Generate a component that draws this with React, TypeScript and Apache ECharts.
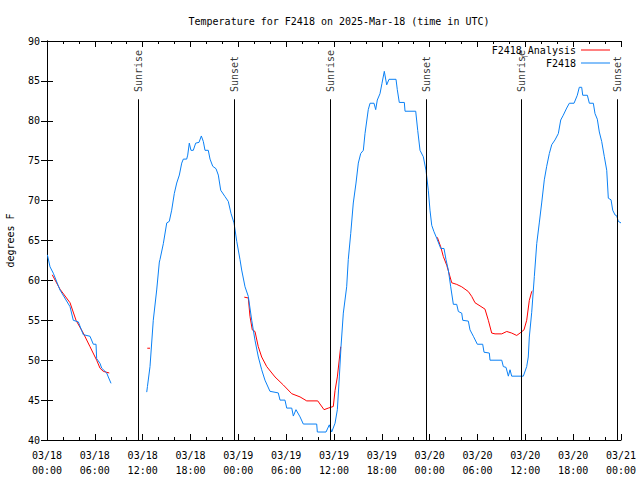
import React, { useEffect, useRef } from "react";
import * as echarts from "echarts";

const TITLE = "Temperature for F2418 on 2025-Mar-18 (time in UTC)";
const Y_NAME = "degrees F";
const SERIES_ANALYSIS = "F2418_Analysis";
const SERIES_OBS = "F2418";
const START_DAY = 18;

// hours since 2025-03-18 00:00 UTC, temperature (F)
const blueSeg1: [number, number][] = [
  [0.05, 63.2], [0.38, 61.7], [0.79, 60.9], [1.63, 58.8], [2.89, 56.7], [3.3, 55.0],
  [3.93, 54.8], [4.55, 53.2], [5.39, 53.0], [5.81, 52.0], [6.15, 52.0], [6.23, 50.2],
  [6.65, 49.6], [6.86, 49.0], [7.49, 48.4], [7.69, 47.9], [8.03, 47.1],
];

const blueSeg2: [number, number][] = [
  [12.51, 46.0], [12.6, 46.7], [12.92, 49.2], [13.33, 55.0], [13.76, 58.8], [14.09, 62.3],
  [14.17, 62.6], [14.59, 64.6], [15.02, 67.2], [15.34, 67.4], [15.64, 68.8], [15.97, 70.9],
  [16.27, 72.2], [16.6, 73.2], [16.9, 74.7], [17.1, 75.2], [17.52, 75.2], [17.65, 75.7],
  [17.85, 77.2], [18.06, 76.3], [18.35, 76.3], [18.65, 77.2], [19.07, 77.3], [19.36, 78.1],
  [19.61, 77.4], [19.82, 76.3], [20.23, 76.3], [20.45, 75.2], [20.79, 74.3], [21.2, 74.0],
  [21.49, 73.2], [21.79, 71.3], [22.33, 70.5], [22.74, 69.9], [23.08, 68.4], [23.46, 67.2],
  [23.8, 64.9], [24.21, 62.6], [24.42, 61.3], [24.84, 59.2], [25.25, 58.0], [25.68, 55.0],
  [26.09, 52.5], [26.51, 50.4], [26.93, 48.8], [27.34, 47.5], [27.97, 46.1], [29.01, 45.9],
  [29.23, 45.0], [29.85, 45.0], [30.07, 44.0], [30.7, 44.0], [30.9, 43.0], [31.23, 43.8],
  [31.74, 42.9], [32.15, 42.0], [33.83, 42.0], [33.91, 41.0], [35.0, 41.0], [35.41, 41.9],
  [35.71, 41.0], [36.13, 42.1], [36.42, 43.8], [36.67, 47.9], [36.88, 51.7], [37.17, 55.9],
  [37.59, 59.2], [37.79, 62.6], [38.1, 65.9], [38.42, 69.7], [38.76, 72.2], [39.05, 74.7],
  [39.35, 75.9], [39.68, 76.3], [39.89, 78.4], [40.3, 81.4], [40.52, 82.2], [41.02, 82.2],
  [41.23, 81.4], [41.43, 82.6], [41.77, 83.4], [42.02, 84.7], [42.31, 86.2], [42.61, 84.5],
  [42.9, 85.2], [43.78, 85.2], [43.94, 83.9], [44.19, 82.3], [44.82, 82.3], [44.91, 81.2],
  [46.25, 81.2], [46.5, 78.8], [46.79, 76.3], [47.2, 75.5], [47.54, 73.8], [47.83, 71.3],
  [48.04, 68.8], [48.26, 66.9], [48.54, 66.1], [48.88, 65.3], [49.39, 64.0], [49.8, 64.0],
  [50.05, 62.6], [50.34, 61.3], [50.64, 59.2], [50.97, 57.0], [51.39, 57.0], [51.6, 56.1],
  [52.02, 55.9], [52.15, 55.0], [52.85, 54.9], [53.06, 53.8], [53.48, 53.0], [53.98, 52.0],
  [54.65, 52.0], [54.82, 51.0], [55.48, 50.9], [55.57, 50.0], [57.04, 50.0], [57.24, 49.2],
  [57.58, 49.1], [57.87, 48.0], [58.08, 48.8], [58.29, 48.0], [59.75, 48.0], [60.17, 49.2],
  [60.37, 50.4], [60.5, 52.9], [60.8, 56.0], [61.13, 60.5], [61.43, 64.6], [61.75, 67.2],
  [62.05, 69.7], [62.38, 72.6], [62.68, 74.3], [63.01, 75.9], [63.31, 77.0], [63.72, 77.6],
  [64.14, 78.4], [64.44, 80.1], [64.76, 80.7], [65.19, 81.6], [65.52, 82.2], [66.11, 82.2],
  [66.52, 83.2], [66.77, 84.2], [67.07, 84.2], [67.2, 83.2], [67.78, 83.2], [68.03, 82.2],
  [68.53, 82.2], [68.74, 80.9], [69.03, 80.2], [69.28, 78.6], [69.58, 77.4], [69.91, 75.5],
  [70.21, 73.8], [70.41, 70.3], [70.75, 70.1], [70.96, 68.8], [71.25, 68.2], [71.46, 68.1],
  [71.66, 67.4], [72.0, 67.2],
];

const redSeg1: [number, number][] = [
  [0.66, 60.7], [1.63, 58.9], [2.89, 57.2], [3.64, 55.0], [4.55, 53.4], [5.39, 51.7],
  [6.23, 50.0], [6.65, 49.0], [7.06, 48.6], [7.81, 48.4],
];

const redSeg2: [number, number][] = [
  [12.58, 51.5], [12.92, 51.5],
];

const redSeg3: [number, number][] = [
  [24.75, 57.9], [25.25, 57.8], [25.46, 55.5], [25.75, 53.8], [26.09, 53.6], [26.5, 51.7],
  [26.93, 50.4], [27.56, 49.2], [28.6, 47.9], [29.64, 46.9], [30.7, 45.8], [31.74, 45.4],
  [32.58, 44.9], [33.96, 44.9], [34.75, 43.8], [35.29, 44.0], [35.91, 44.2], [36.13, 46.2],
  [36.42, 47.9], [36.84, 51.7],
];

const redSeg4: [number, number][] = [
  [48.96, 65.4], [49.39, 64.2], [49.71, 63.0], [50.14, 61.9], [50.77, 59.7], [51.39, 59.5],
  [52.02, 59.2], [52.85, 58.6], [53.27, 58.0], [53.69, 57.2], [54.32, 56.8], [54.94, 56.4],
  [55.36, 55.0], [55.78, 53.4], [56.2, 53.3], [57.04, 53.3], [57.67, 53.6], [58.29, 53.4],
  [58.92, 53.1], [59.33, 53.4], [59.83, 53.8], [60.17, 55.0], [60.5, 57.5], [60.8, 58.6],
  [60.88, 58.7],
];

const sunriseHours = [11.45, 35.55, 59.5];
const sunsetHours = [23.5, 47.6, 71.55];
const SUNRISE = "Sunrise";
const SUNSET = "Sunset";

const X_MIN = 0;
const X_MAX = 72;
const X_STEP = 6;
const Y_MIN = 40;
const Y_MAX = 90;
const Y_STEP = 5;
const SUN_LINE_TOP = 82.7;
const SUN_LABEL_BASE = 83.6;

const FONT = "DejaVu Sans Mono";
const BLUE = "#0a80f5";
const RED = "#ff0000";

function joinSegments(segs: [number, number][][]): any[] {
  const out: any[] = [];
  segs.forEach((s, i) => {
    if (i > 0) out.push(["-", "-"]);
    s.forEach((p) => out.push(p));
  });
  return out;
}

function pad(n: number) {
  return n < 10 ? "0" + n : String(n);
}

function xLabel(v: number) {
  const day = START_DAY + Math.floor(v / 24);
  const hh = v % 24;
  return `03/${pad(day)}\n${pad(hh)}:00`;
}

export default function App() {
  const ref = useRef<HTMLDivElement>(null);

  useEffect(() => {
    if (!ref.current) return;
    const chart = echarts.init(ref.current, undefined, { renderer: "svg" });

    const txt = { fontFamily: FONT, fontSize: 10, color: "#000" };
    const axisCommon = {
      axisLine: { show: true, lineStyle: { color: "#000", width: 1 } },
      splitLine: { show: false },
    };

    const sunEvents = [
      ...sunriseHours.map((h) => ({ h, name: SUNRISE })),
      ...sunsetHours.map((h) => ({ h, name: SUNSET })),
    ];

    const legendCommon = {
      right: 30,
      padding: 0,
      align: "right",
      icon: "rect",
      itemWidth: 29,
      itemHeight: 1,
      textStyle: txt,
      selectedMode: false,
    };

    chart.setOption({
      animation: false,
      backgroundColor: "#fff",
      title: {
        text: TITLE,
        left: 334,
        textAlign: "center",
        top: 11,
        textStyle: { ...txt, fontWeight: "normal" },
      },
      legend: [
        { ...legendCommon, data: [SERIES_ANALYSIS], top: 45 },
        { ...legendCommon, data: [SERIES_OBS], top: 58 },
      ],
      grid: {
        left: 47,
        right: 19,
        top: 41,
        bottom: 40,
        containLabel: false,
        outerBoundsMode: "none",
      },
      xAxis: [
        {
          type: "value",
          min: X_MIN,
          max: X_MAX,
          interval: X_STEP,
          position: "bottom",
          ...axisCommon,
          axisTick: { show: true, inside: true, length: 6, lineStyle: { color: "#000" } },
          minorTick: { show: true, splitNumber: 3, length: 3, lineStyle: { color: "#000" } },
          axisLabel: { ...txt, margin: 8, lineHeight: 15, formatter: xLabel },
        },
        {
          type: "value",
          min: X_MIN,
          max: X_MAX,
          interval: X_STEP,
          position: "top",
          ...axisCommon,
          axisTick: { show: true, inside: true, length: 6, lineStyle: { color: "#000" } },
          minorTick: { show: true, splitNumber: 3, length: 3, lineStyle: { color: "#000" } },
          axisLabel: { show: false },
        },
      ],
      yAxis: [
        {
          type: "value",
          min: Y_MIN,
          max: Y_MAX,
          interval: Y_STEP,
          position: "left",
          ...axisCommon,
          axisTick: { show: true, inside: true, length: 6, lineStyle: { color: "#000" } },
          axisLabel: { ...txt, margin: 7 },
          name: Y_NAME,
          nameLocation: "middle",
          nameGap: 32,
          nameTextStyle: txt,
        },
        {
          type: "value",
          min: Y_MIN,
          max: Y_MAX,
          interval: Y_STEP,
          position: "right",
          ...axisCommon,
          axisTick: { show: true, inside: true, length: 6, lineStyle: { color: "#000" } },
          axisLabel: { show: false },
        },
      ],
      series: [
        {
          name: "sun",
          type: "scatter",
          symbolSize: 0,
          silent: true,
          data: sunEvents.map((e) => ({
            value: [e.h, SUN_LABEL_BASE],
            label: { formatter: e.name },
          })),
          label: {
            show: true,
            position: "inside",
            rotate: 90,
            align: "left",
            verticalAlign: "middle",
            ...txt,
          },
          markLine: {
            silent: true,
            symbol: "none",
            animation: false,
            label: { show: false },
            lineStyle: { color: "#000", width: 1, type: "solid" },
            emphasis: { disabled: true },
            data: sunEvents.map((e) => [
              { coord: [e.h, Y_MIN] },
              { coord: [e.h, SUN_LINE_TOP] },
            ]),
          },
        },
        {
          name: SERIES_ANALYSIS,
          type: "line",
          symbol: "none",
          connectNulls: false,
          lineStyle: { color: RED, width: 1 },
          itemStyle: { color: RED },
          data: joinSegments([redSeg1, redSeg2, redSeg3, redSeg4]),
        },
        {
          name: SERIES_OBS,
          type: "line",
          symbol: "none",
          connectNulls: false,
          lineStyle: { color: BLUE, width: 1 },
          itemStyle: { color: BLUE },
          data: joinSegments([blueSeg1, blueSeg2]),
        },
      ],
    });

    return () => chart.dispose();
  }, []);

  return (
    <div
      ref={ref}
      style={{ position: "fixed", left: 0, top: 0, width: 640, height: 480, background: "#fff" }}
    />
  );
}
